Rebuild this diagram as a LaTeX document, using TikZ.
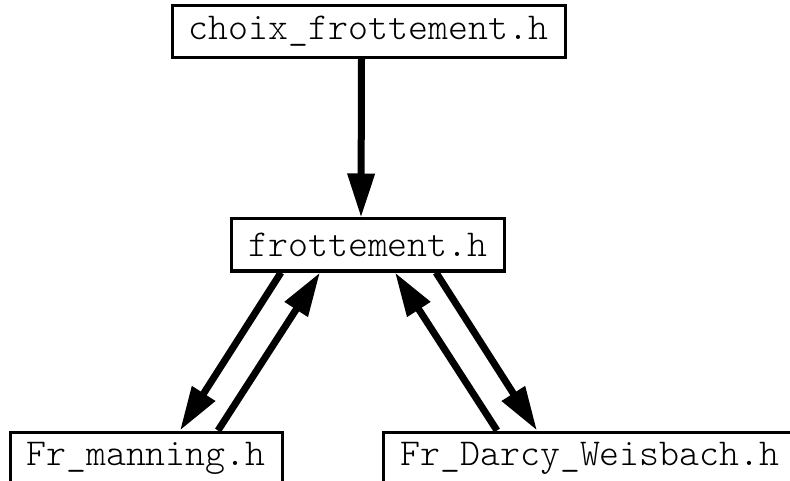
\documentclass[tikz,border=0pt]{standalone}
\usepackage{fontspec}
\setmonofont{Latin Modern Mono Light}
\usetikzlibrary{arrows.meta}
\begin{document}
\begin{tikzpicture}[x=1pt,y=-1pt,
  filebox/.style={draw=black,line width=3pt,fill=white,minimum height=52pt,inner sep=0pt,
    font=\fontsize{38}{40}\selectfont\ttfamily},
  dep/.style={line width=7pt,-{Triangle[width=26pt,length=44pt]}}]
\useasboundingbox (0,0) rectangle (790,481);
\clip (0,0) rectangle (790,481);
\node[filebox,minimum width=393pt] (choix) at (368.5,31.5) {choix\_frottement.h};
\node[filebox,minimum width=273pt] (frott) at (368,245) {frottement.h};
\node[filebox,minimum width=272pt] (man) at (146,458) {Fr\_manning.h};
\node[filebox,minimum width=414pt] (darcy) at (590,458) {Fr\_Darcy\_Weisbach.h};
\draw[dep] ([xshift=-7pt]choix.south) -- ([xshift=-7pt]frott.north);
\draw[dep] ([xshift=-87pt]frott.south) -- ([xshift=34pt]man.north);
\draw[dep] ([xshift=72pt]man.north) -- ([xshift=-48pt]frott.south);
\draw[dep] ([xshift=68pt]frott.south) -- ([xshift=-53pt]darcy.north);
\draw[dep] ([xshift=-93pt]darcy.north) -- ([xshift=27pt]frott.south);
\end{tikzpicture}
\end{document}
